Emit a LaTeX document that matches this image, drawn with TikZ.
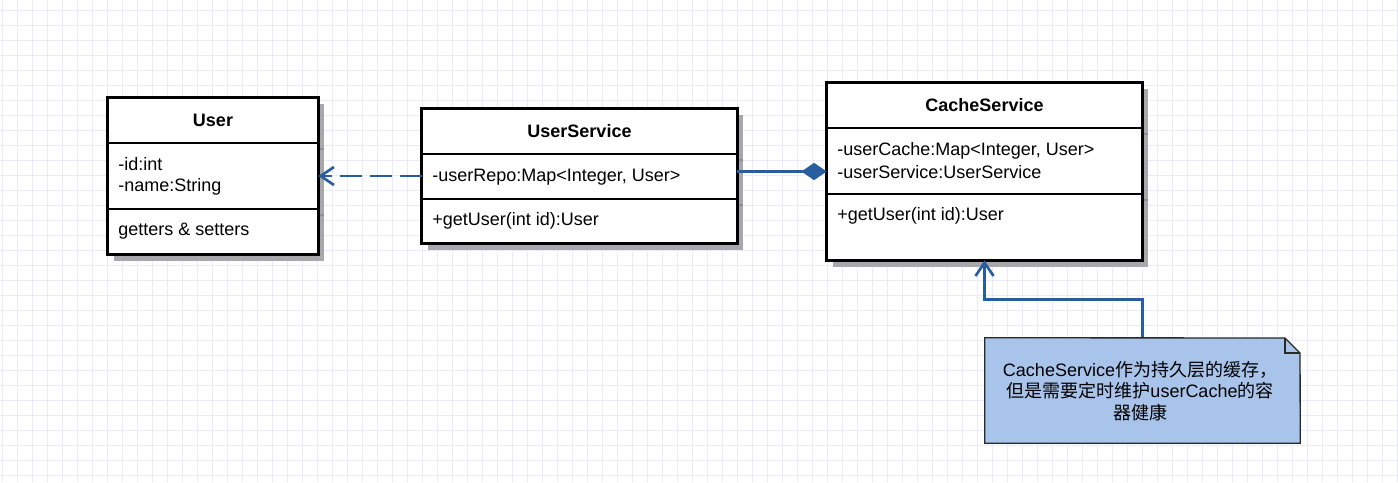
\documentclass[tikz,border=0pt]{standalone}
\usepackage{fontspec}
\setmainfont{Liberation Sans}
\newfontfamily\cjk{Noto Sans CJK SC}
\usetikzlibrary{arrows.meta,fit}

\definecolor{gridline}{RGB}{234,234,250}
\definecolor{linkblue}{RGB}{41,94,158}
\definecolor{notefill}{RGB}{169,196,235}
\definecolor{noteline}{RGB}{40,40,40}
\definecolor{shadowgray}{RGB}{168,168,172}

\tikzset{
  classbox/.style={inner sep=0pt},
  boxshadow/.style={fill=shadowgray},
  frame/.style={draw=black, line width=2.2pt},
  shadowline/.style={draw=shadowgray!85!black, line width=1.5pt},
  title/.style={font=\fontsize{13.5}{16}\selectfont\bfseries},
  member/.style={anchor=west, inner sep=0pt, font=\fontsize{13.5}{16}\selectfont},
  link/.style={draw=linkblue, line width=2pt},
  barb/.style={-{Straight Barb[length=10pt, width=13.5pt, line width=2pt]}},
  noteedge/.style={draw=noteline, line width=1pt, line join=miter},
}

\begin{document}
\begin{tikzpicture}[x=0.75pt, y=-0.75pt]
  \useasboundingbox (0,0) rectangle (1398,482);
  \fill[white] (0,0) rectangle (1398,482);

  % background grid, 15px pitch
  \foreach \gx in {2,17,...,1397} \draw[gridline, line width=0.75pt] (\gx,0) -- (\gx,482);
  \foreach \gy in {10,25,...,481} \draw[gridline, line width=0.75pt] (0,\gy) -- (1398,\gy);

  % ---------- User ----------
  \node[classbox, fit={(108,98) (318,254)}] (user) {};
  \path[boxshadow] (114,104) rectangle (324,261);
  \fill[white] (user.north west) rectangle (user.south east);
  \draw[frame] (user.north west) rectangle (user.south east);
  \draw[frame] (user.west |- 0,143) -- (user.east |- 0,143);
  \draw[frame] (user.west |- 0,209) -- (user.east |- 0,209);
  \draw[shadowline] (320,149) -- (324,149);
  \draw[shadowline] (320,215) -- (324,215);
  \node[title] (user-title) at (213,120) {User};
  \node[member] (user-id) at (118,164) {-id:int};
  \node[member] (user-name) at (118,187) {-name:String};
  \node[member] (user-ops) at (118,231) {getters \& setters};

  % ---------- UserService ----------
  \node[classbox, fit={(422,109) (737,243)}] (us) {};
  \path[boxshadow] (428,115) rectangle (743,250);
  \fill[white] (us.north west) rectangle (us.south east);
  \draw[frame] (us.north west) rectangle (us.south east);
  \draw[frame] (us.west |- 0,154) -- (us.east |- 0,154);
  \draw[frame] (us.west |- 0,199) -- (us.east |- 0,199);
  \draw[shadowline] (739,160) -- (743,160);
  \draw[shadowline] (739,205) -- (743,205);
  \node[title] (us-title) at (579.5,131) {UserService};
  \node[member] (us-repo) at (432,177) {-userRepo:Map<Integer, User>};
  \node[member] (us-get) at (432,221) {+getUser(int id):User};

  % ---------- CacheService ----------
  \node[classbox, fit={(827,83) (1142,260)}] (cache) {};
  \path[boxshadow] (833,89) rectangle (1148,267);
  \fill[white] (cache.north west) rectangle (cache.south east);
  \draw[frame] (cache.north west) rectangle (cache.south east);
  \draw[frame] (cache.west |- 0,128) -- (cache.east |- 0,128);
  \draw[frame] (cache.west |- 0,194) -- (cache.east |- 0,194);
  \draw[shadowline] (1144,134) -- (1148,134);
  \draw[shadowline] (1144,200) -- (1148,200);
  \node[title] (cache-title) at (984.5,105) {CacheService};
  \node[member] (cache-map) at (837,151) {-userCache:Map<Integer, User>};
  \node[member] (cache-svc) at (837,172) {-userService:UserService};
  \node[member] (cache-get) at (837,216) {+getUser(int id):User};

  % ---------- note ----------
  \node[classbox, fit={(985,338) (1300,443)}] (note) {};
  \fill[notefill]
    (note.north west) -- (1285,338) -- (1300,353) -- (note.south east)
    -- (note.south west) -- cycle;
  \node[align=center, inner sep=0pt, font=\fontsize{13.5}{16}\selectfont] (note-text) at (1140,391)
    {CacheService{\cjk 作为持久层的缓存，}\\
     {\cjk 但是需要定时维护}userCache{\cjk 的容}\\
     {\cjk 器健康}};

  % ---------- relations ----------
  \draw[link, barb, dash pattern=on 16.5pt off 6pt] (us.west) -- (user.east);
  \draw[link, -{Diamond[length=19pt, width=13pt]}]
    (us.east |- cache.west) -- (cache.west);
  \draw[link, barb] (note.north) -- ++(0,-38) -| (cache.south);

  % note outline with folded corner, on top of the connector end
  \draw[noteedge]
    (note.north west) -- (1285,338) -- (1300,353) -- (note.south east)
    -- (note.south west) -- cycle;
  \draw[noteedge] (1285,338) -- (1285,353) -- (1300,353);
\end{tikzpicture}
\end{document}
